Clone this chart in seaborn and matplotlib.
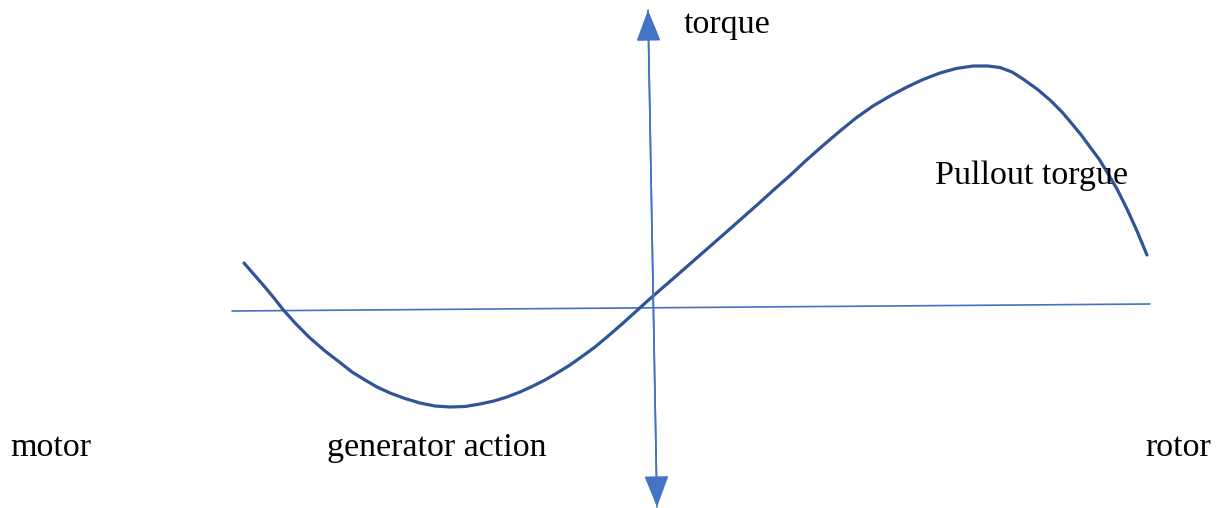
import matplotlib
matplotlib.use("Agg")
import matplotlib.pyplot as plt
import seaborn as sns
import pandas as pd

# Curve values (pixel coordinates, y downward)
curve_x = [244, 254, 264, 274, 283, 296, 310, 325, 340, 352, 365, 377, 390, 405,
           420, 435, 450, 465, 480, 494, 507, 520, 532, 545, 557, 570, 582, 595,
           607, 622, 637, 648, 660, 671, 683, 695, 707, 723, 740, 757, 773, 790,
           806, 823, 840, 856, 873, 890, 907, 923, 940, 956, 973, 988, 1000, 1012,
           1023, 1037, 1050, 1062, 1073, 1082, 1090, 1099, 1107, 1117, 1127, 1137, 1147]
curve_y = [263, 274.5, 286, 298, 309.5, 324, 338, 351, 362.5, 372, 380, 387, 393, 398.5,
           403, 406, 407, 406.5, 404, 401, 397, 392, 386.5, 380, 373, 365, 356.5, 347,
           337, 324, 310.5, 300.5, 290, 280.5, 270, 259.5, 249, 235, 220, 205, 190.5, 175.5,
           160.5, 145.5, 131, 118, 106, 96, 87, 79.5, 73, 68.5, 66, 66, 67.5, 72,
           79, 89, 100, 112, 125, 136, 147, 159, 172, 189, 209, 231, 255]

# Axis lines
h_axis_x = [232, 1150]
h_axis_y = [311, 304]
v_axis_top = (648, 10)
v_axis_bottom = (657, 507)

labels = ["torque", "Pullout torgue", "motor", "generator action", "rotor"]
label_x = [684, 935, 10, 327, 1145]
label_y = [25, 176, 448, 448, 448]

sns.set_theme(style="white")
plt.rcParams['font.family'] = ['Liberation Serif', 'DejaVu Serif']

fig = plt.figure(figsize=(12.21, 5.08), dpi=100)
ax = fig.add_axes([0, 0, 1, 1])

axis_color = "#4472C4"
curve_color = "#2F5597"

ax.plot(h_axis_x, h_axis_y, color=axis_color, lw=1.2)
style = "-|>,head_length=0.9,head_width=0.35"
ax.annotate("", xy=v_axis_top, xytext=v_axis_bottom,
            arrowprops=dict(arrowstyle=style, color=axis_color, lw=1.2,
                            mutation_scale=22, shrinkA=0, shrinkB=0))
ax.annotate("", xy=v_axis_bottom, xytext=v_axis_top,
            arrowprops=dict(arrowstyle=style, color=axis_color, lw=1.2,
                            mutation_scale=22, shrinkA=0, shrinkB=0))

df = pd.DataFrame({"x": curve_x, "y": curve_y})
sns.lineplot(data=df, x="x", y="y", sort=False, ax=ax, color=curve_color, lw=2.3)
for line in ax.lines:
    line.set_solid_joinstyle("round")
ax.set_xlim(0, 1221)
ax.set_ylim(508, 0)
ax.axis("off")

for t, x, y in zip(labels, label_x, label_y):
    ax.text(x, y, t, fontsize=24.5, color="black", ha="left", va="center")

fig.savefig("out.png", dpi=100)
